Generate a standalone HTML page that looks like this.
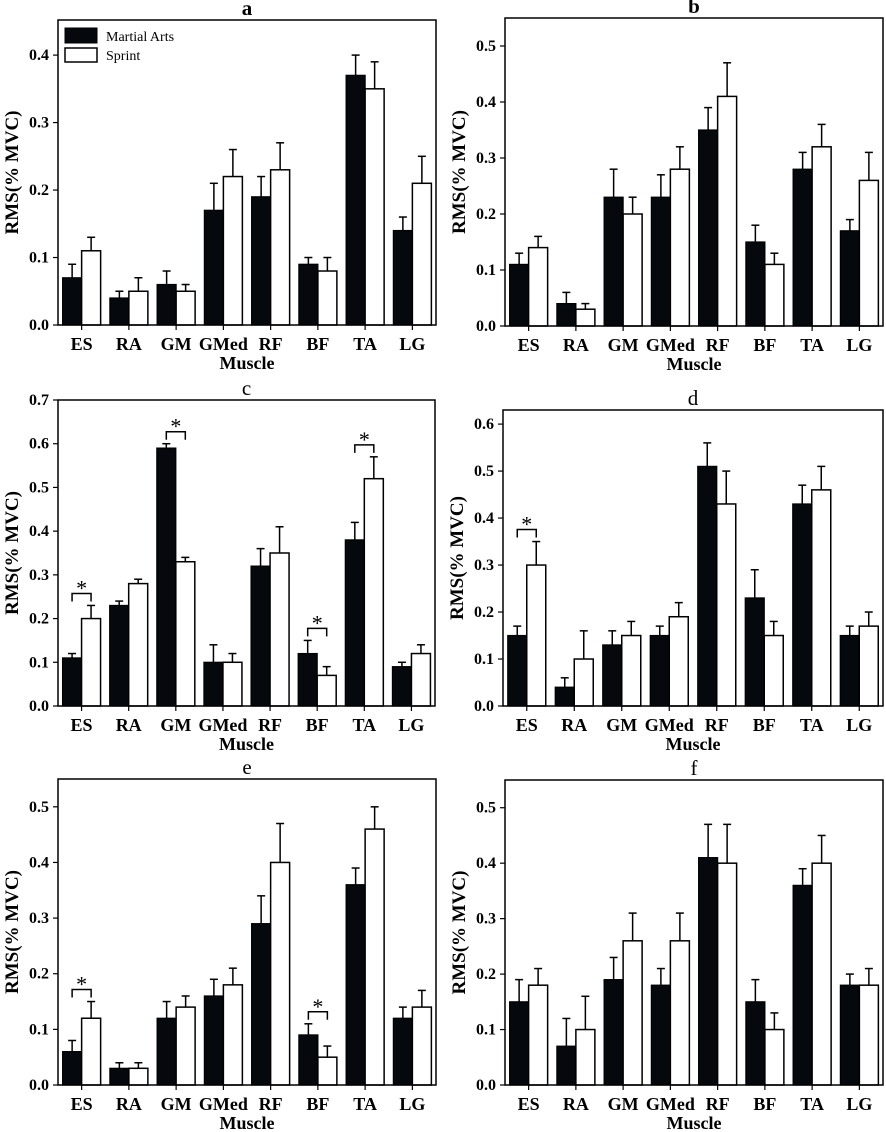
<!DOCTYPE html>
<html><head><meta charset="utf-8">
<style>
html,body{margin:0;padding:0;background:#fff;}
svg{display:block;font-family:"Liberation Serif",serif;}
</style></head>
<body>
<svg id="chart" width="886" height="1132" viewBox="0 0 886 1132" xmlns="http://www.w3.org/2000/svg"></svg>
<script>
const categories = ["ES","RA","GM","GMed","RF","BF","TA","LG"];
const aMA = [0.07,0.04,0.06,0.17,0.19,0.09,0.37,0.14];
const aMAerr = [0.09,0.05,0.08,0.21,0.22,0.10,0.40,0.16];
const aSP = [0.11,0.05,0.05,0.22,0.23,0.08,0.35,0.21];
const aSPerr = [0.13,0.07,0.06,0.26,0.27,0.10,0.39,0.25];
const bMA = [0.11,0.04,0.23,0.23,0.35,0.15,0.28,0.17];
const bMAerr = [0.13,0.06,0.28,0.27,0.39,0.18,0.31,0.19];
const bSP = [0.14,0.03,0.20,0.28,0.41,0.11,0.32,0.26];
const bSPerr = [0.16,0.04,0.23,0.32,0.47,0.13,0.36,0.31];
const cMA = [0.11,0.23,0.59,0.10,0.32,0.12,0.38,0.09];
const cMAerr = [0.12,0.24,0.60,0.14,0.36,0.15,0.42,0.10];
const cSP = [0.20,0.28,0.33,0.10,0.35,0.07,0.52,0.12];
const cSPerr = [0.23,0.29,0.34,0.12,0.41,0.09,0.57,0.14];
const cStars = [0,2,5,6];
const dMA = [0.15,0.04,0.13,0.15,0.51,0.23,0.43,0.15];
const dMAerr = [0.17,0.06,0.16,0.17,0.56,0.29,0.47,0.17];
const dSP = [0.30,0.10,0.15,0.19,0.43,0.15,0.46,0.17];
const dSPerr = [0.35,0.16,0.18,0.22,0.50,0.18,0.51,0.20];
const dStars = [0];
const eMA = [0.06,0.03,0.12,0.16,0.29,0.09,0.36,0.12];
const eMAerr = [0.08,0.04,0.15,0.19,0.34,0.11,0.39,0.14];
const eSP = [0.12,0.03,0.14,0.18,0.40,0.05,0.46,0.14];
const eSPerr = [0.15,0.04,0.16,0.21,0.47,0.07,0.50,0.17];
const eStars = [0,5];
const fMA = [0.15,0.07,0.19,0.18,0.41,0.15,0.36,0.18];
const fMAerr = [0.19,0.12,0.23,0.21,0.47,0.19,0.39,0.20];
const fSP = [0.18,0.10,0.26,0.26,0.40,0.10,0.40,0.18];
const fSPerr = [0.21,0.16,0.31,0.31,0.47,0.13,0.45,0.21];
const ticksA = [0,0.1,0.2,0.3,0.4];
const ticksB = [0,0.1,0.2,0.3,0.4,0.5];
const ticksC = [0,0.1,0.2,0.3,0.4,0.5,0.6,0.7];
const ticksD = [0,0.1,0.2,0.3,0.4,0.5,0.6];

const NS="http://www.w3.org/2000/svg";
const svg=document.getElementById('chart');
function mk(tag,attrs,parent){const e=document.createElementNS(NS,tag);for(const k in attrs)e.setAttribute(k,attrs[k]);(parent||svg).appendChild(e);return e;}

const panels=[
 {id:'a',L:58,R:436,T:20,B:325,ymax:0.452,ma:aMA,mae:aMAerr,sp:aSP,spe:aSPerr,ticks:ticksA,stars:[],bold:true,legend:true},
 {id:'b',L:505,R:883,T:18,B:326,ymax:0.55,ma:bMA,mae:bMAerr,sp:bSP,spe:bSPerr,ticks:ticksB,stars:[],bold:true},
 {id:'c',L:58,R:435,T:400,B:706,ymax:0.7,ma:cMA,mae:cMAerr,sp:cSP,spe:cSPerr,ticks:ticksC,stars:cStars},
 {id:'d',L:503,R:883,T:410,B:706,ymax:0.63,ma:dMA,mae:dMAerr,sp:dSP,spe:dSPerr,ticks:ticksD,stars:dStars},
 {id:'e',L:58,R:436,T:779,B:1085,ymax:0.55,ma:eMA,mae:eMAerr,sp:eSP,spe:eSPerr,ticks:ticksB,stars:eStars},
 {id:'f',L:505,R:883,T:780,B:1085,ymax:0.55,ma:fMA,mae:fMAerr,sp:fSP,spe:fSPerr,ticks:ticksB,stars:[]}
];

panels.forEach(p=>{
 const g=mk('g',{});
 
 
 const y=v=>p.B-(v/p.ymax)*(p.B-p.T);
 const step=(p.R-p.L)/8;
 const cx=i=>p.L+step*(i+0.5);
 const bw=19;
 const t=mk('text',{x:(p.L+p.R)/2,y:p.T-5,'text-anchor':'middle','font-size':21,'font-weight':p.bold?'bold':'normal'},g);
 t.textContent=p.id;
 
 
 categories.forEach((c,i)=>{
  const x0=cx(i);
  [[p.ma,p.mae,x0-bw/2],[p.sp,p.spe,x0+bw/2]].forEach(([v,e,ex])=>{
   const l=mk('line',{x1:ex,x2:ex,y1:y(v[i]),y2:y(e[i]),stroke:'#000','stroke-width':1.5},g);
   
   
   mk('line',{x1:ex-4,x2:ex+4,y1:y(e[i]),y2:y(e[i]),stroke:'#000','stroke-width':1.5},g);
  });
  const r1=mk('rect',{x:x0-bw,y:y(p.ma[i]),width:bw,height:p.B-y(p.ma[i]),fill:'#05080d',stroke:'#000','stroke-width':1.2},g);
  
  
  const r2=mk('rect',{x:x0,y:y(p.sp[i]),width:bw,height:p.B-y(p.sp[i]),fill:'#fff',stroke:'#000','stroke-width':1.5},g);
  
  
  mk('line',{x1:x0,x2:x0,y1:p.B,y2:p.B+5,stroke:'#000','stroke-width':1.2},g);
  const tl=mk('text',{x:x0,y:p.B+25,'text-anchor':'middle','font-size':18,'font-weight':'bold'},g);
  tl.textContent=c;
  
  
 });
 p.stars.forEach(i=>{
  const x0=cx(i);
  const top=Math.min(y(p.mae[i]),y(p.spe[i]))-12;
  const xa=x0-bw/2,xb=x0+bw/2;
  const br=mk('path',{d:`M${xa},${top+8}V${top}H${xb}V${top+8}`,fill:'none',stroke:'#000','stroke-width':1.5},g);
  
  
  const st=mk('text',{x:x0,y:top+2,'text-anchor':'middle','font-size':22},g);
  st.textContent='*';
  
  
 });
 p.ticks.forEach(v=>{
  mk('line',{x1:p.L-5,x2:p.L,y1:y(v),y2:y(v),stroke:'#000','stroke-width':1.2},g);
  const yl=mk('text',{x:p.L-9,y:y(v)+5,'text-anchor':'end','font-size':16,'font-weight':'bold'},g);
  yl.textContent=v.toFixed(1);
  
  
 });
 const fr=mk('rect',{x:p.L,y:p.T,width:p.R-p.L,height:p.B-p.T,fill:'none',stroke:'#000','stroke-width':1.5},g);
 
 
 const xt=mk('text',{x:(p.L+p.R)/2,y:p.B+44,'text-anchor':'middle','font-size':18,'font-weight':'bold'},g);
 xt.textContent='Muscle';
 
 
 const ycx=p.L-40, ycy=(p.T+p.B)/2;
 const yt=mk('text',{x:ycx,y:ycy,'text-anchor':'middle','font-size':19,'font-weight':'bold',transform:`rotate(-90 ${ycx} ${ycy})`},g);
 yt.textContent='RMS(% MVC)';
 
 
 if(p.legend){
  const lg=mk('g',{},g);
  
  
  mk('rect',{x:65,y:28,width:32,height:15,fill:'#05080d',stroke:'#000'},lg);
  mk('rect',{x:65,y:48,width:32,height:14,fill:'#fff',stroke:'#000','stroke-width':1.5},lg);
  const t1=mk('text',{x:106,y:41,'font-size':14},lg);t1.textContent='Martial Arts';
  
  
  const t2=mk('text',{x:106,y:60,'font-size':14},lg);t2.textContent='Sprint';
  
  
 }
});
</script>
</body></html>
